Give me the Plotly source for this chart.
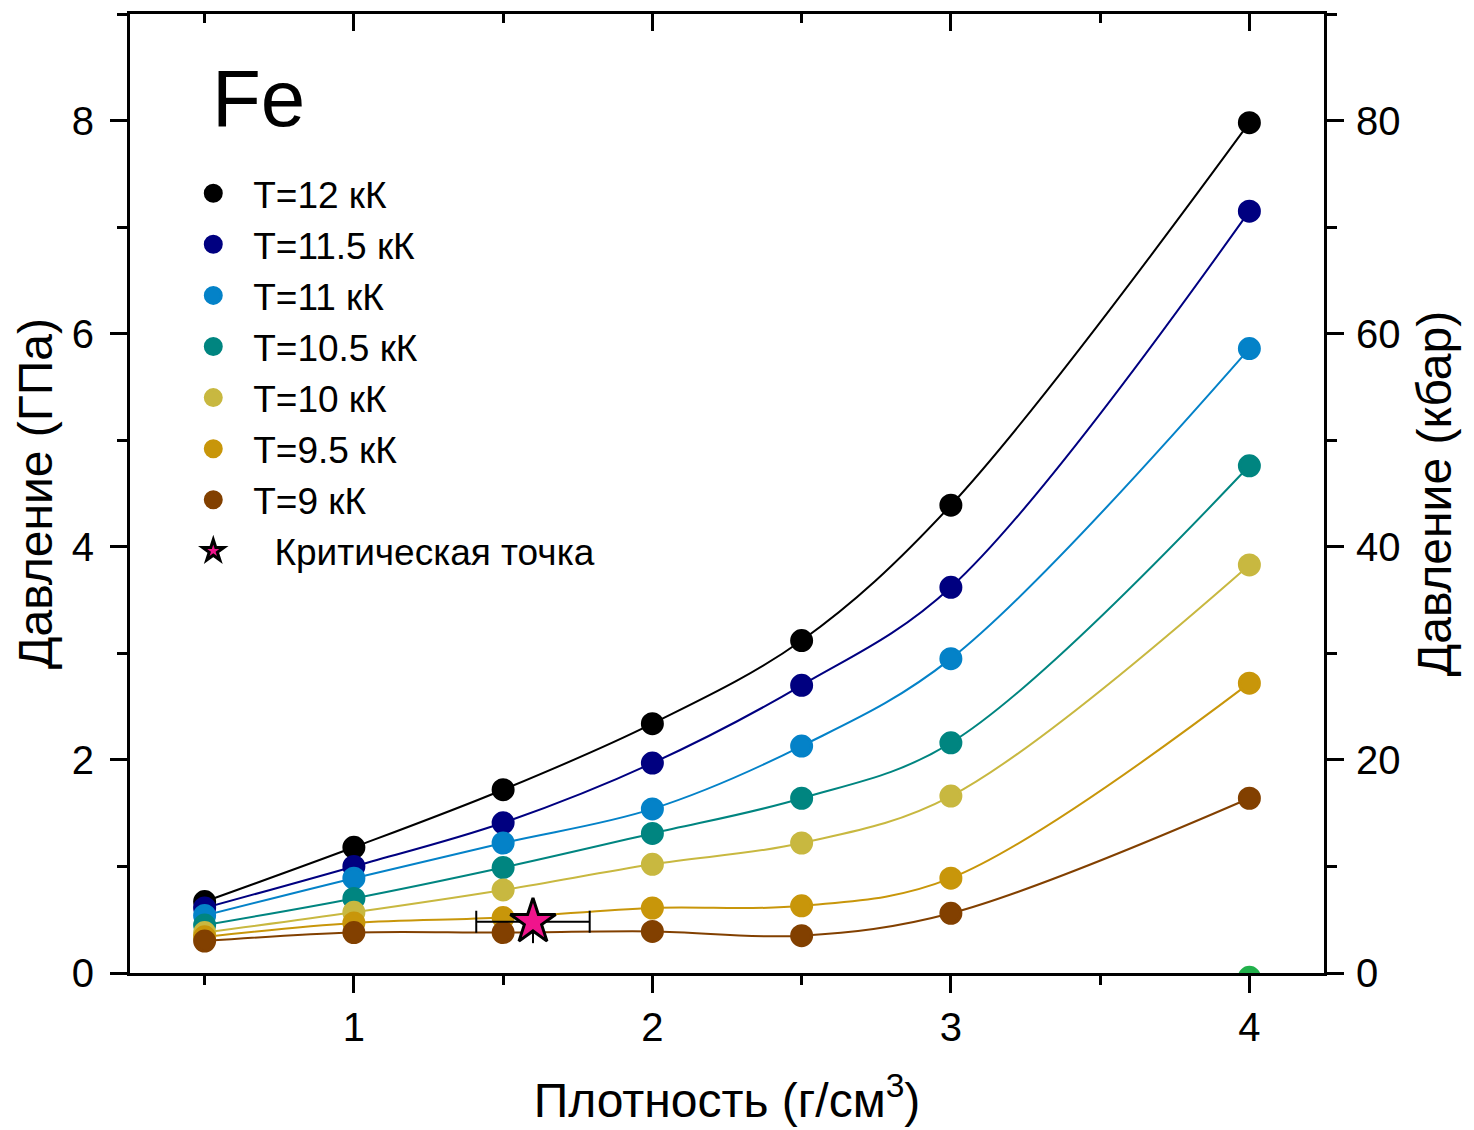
import plotly.graph_objects as go

density = [0.5, 1.0, 1.5, 2.0, 2.5, 3.0, 4.0]

p_12 = [0.67, 1.18, 1.72, 2.34, 3.12, 4.39, 7.98]
p_11_5 = [0.61, 1.00, 1.41, 1.97, 2.70, 3.62, 7.15]
p_11 = [0.54, 0.89, 1.22, 1.54, 2.13, 2.95, 5.86]
p_10_5 = [0.45, 0.70, 0.99, 1.31, 1.64, 2.16, 4.76]
p_10 = [0.38, 0.57, 0.78, 1.02, 1.22, 1.66, 3.83]
p_9_5 = [0.34, 0.47, 0.52, 0.61, 0.63, 0.89, 2.72]
p_9 = [0.30, 0.38, 0.38, 0.39, 0.35, 0.56, 1.64]

series_names = ["T=12 кК", "T=11.5 кК", "T=11 кК", "T=10.5 кК", "T=10 кК", "T=9.5 кК", "T=9 кК"]
series_values = [p_12, p_11_5, p_11, p_10_5, p_10, p_9_5, p_9]
series_colors = ["#000000", "#000080", "#0482C8", "#008580", "#C8B840", "#C8960A", "#824000"]

crit_x = [1.6]
crit_y = [0.48]
crit_err_x = [0.19]
crit_err_y = [0.2]

extra_x = [4.0]
extra_y = [-0.04]

FONT = "Liberation Sans, Arial, sans-serif"

fig = go.Figure()

# smooth curves (no legend)
for name, vals, col in zip(series_names, series_values, series_colors):
    fig.add_trace(go.Scatter(
        x=density, y=vals, mode="lines", showlegend=False, hoverinfo="skip",
        line=dict(color=col, width=2, shape="spline", smoothing=1.0),
    ))

# markers (legend)
for name, vals, col in zip(series_names, series_values, series_colors):
    fig.add_trace(go.Scatter(
        x=density, y=vals, name="  " + name, mode="markers",
        marker=dict(color=col, size=20, line=dict(color=col, width=3)),
    ))

fig.add_trace(go.Scatter(
    x=extra_x, y=extra_y, mode="markers", showlegend=False,
    marker=dict(color="#22B14C", size=20, line=dict(color="#22B14C", width=3)), cliponaxis=True,
))

fig.add_trace(go.Scatter(
    x=crit_x, y=crit_y, mode="markers", name="    Критическая точка",
    marker=dict(symbol="star", size=34, color="#F0148C", line=dict(color="black", width=3)),
    error_x=dict(type="data", array=crit_err_x, color="black", thickness=2, width=11),
    error_y=dict(type="data", array=crit_err_y, color="black", thickness=2, width=0),
))

# invisible trace to activate secondary axes
fig.add_trace(go.Scatter(x=[0.5], y=[0], xaxis="x2", yaxis="y2", mode="markers",
                         marker=dict(opacity=0), showlegend=False, hoverinfo="skip"))

axis_common = dict(showline=True, linecolor="black", linewidth=3, mirror=False,
                   showgrid=False, zeroline=False, ticks="outside", ticklen=17,
                   tickwidth=3, tickcolor="black",
                   tickfont=dict(family=FONT, size=40, color="black"))

TITLE_SIZE = 48

fig.update_layout(
    width=1474, height=1130,
    margin=dict(l=130, r=150, t=14, b=157),
    paper_bgcolor="white", plot_bgcolor="white",
    font=dict(family=FONT, color="black"),
    xaxis=dict(range=[0.25, 4.25], dtick=1, tick0=0,
               minor=dict(dtick=0.5, tick0=0, ticks="outside", ticklen=9, tickwidth=3, tickcolor="black"),
               title=dict(text="Плотность (г/см<sup>3</sup>)", font=dict(family=FONT, size=TITLE_SIZE), standoff=36),
               **axis_common),
    yaxis=dict(range=[0, 9], dtick=2, tick0=0, ticklabelstandoff=8,
               minor=dict(dtick=1, tick0=0, ticks="outside", ticklen=10, tickwidth=3, tickcolor="black"),
               title=dict(text="Давление (ГПа)", font=dict(family=FONT, size=TITLE_SIZE), standoff=4),
               **axis_common),
    xaxis2=dict(range=[0.25, 4.25], overlaying="x", side="top", dtick=1, tick0=0,
                showline=True, linecolor="black", linewidth=3, showgrid=False, zeroline=False,
                ticks="inside", ticklen=17, tickwidth=3, tickcolor="black", showticklabels=False,
                minor=dict(dtick=0.5, tick0=0, ticks="inside", ticklen=9, tickwidth=3, tickcolor="black")),
    yaxis2=dict(range=[0, 90], overlaying="y", side="right", dtick=20, tick0=0, ticklabelstandoff=4,
                minor=dict(dtick=10, tick0=0, ticks="outside", ticklen=10, tickwidth=3, tickcolor="black"),
                title=dict(text="Давление (кбар)", font=dict(family=FONT, size=TITLE_SIZE), standoff=18),
                **axis_common),
    legend=dict(x=0.053, y=0.845, xanchor="left", yanchor="top",
                bgcolor="rgba(0,0,0,0)", font=dict(family=FONT, size=37, color="black"),
                itemsizing="trace", tracegroupgap=0),
    annotations=[dict(text="Fe", x=0.067, y=0.912, xref="paper", yref="paper",
                      xanchor="left", yanchor="middle", showarrow=False,
                      font=dict(family=FONT, size=80, color="black"))],
    showlegend=True,
)

fig.write_html("out.html")
